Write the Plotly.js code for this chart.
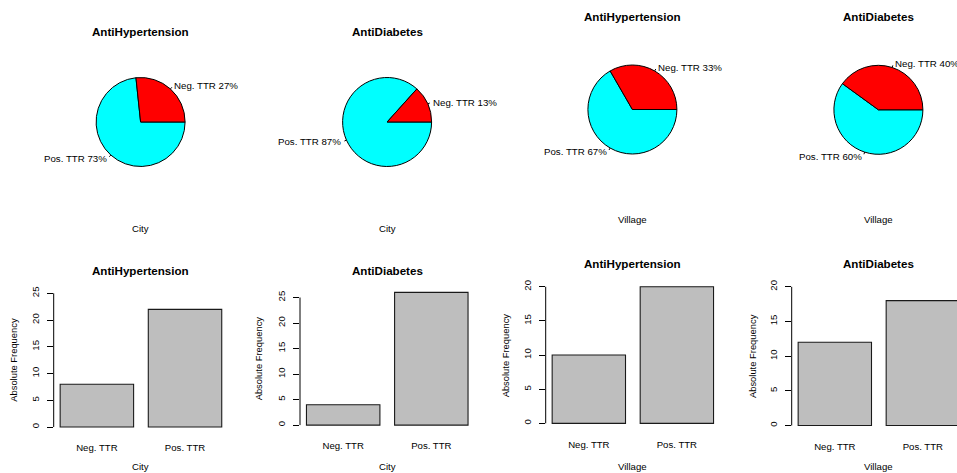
<!DOCTYPE html>
<html>
<head>
<meta charset="utf-8">
<script src="https://cdn.plot.ly/plotly-3.0.1.min.js"></script>
<style>html,body{margin:0;padding:0;background:#fff;}#chart{width:957px;height:473px;}</style>
</head>
<body>
<div id="chart"></div>
<script>
// ---------------- data ----------------
const categories = ['Neg. TTR', 'Pos. TTR'];
const panelTitles = ['AntiHypertension', 'AntiDiabetes', 'AntiHypertension', 'AntiDiabetes'];
const groups = ['City', 'City', 'Village', 'Village'];
const cityHyper = [8, 22];
const cityDiab = [4, 26];
const villageHyper = [10, 20];
const villageDiab = [12, 18];
const yTicks1 = [0, 5, 10, 15, 20, 25];
const yTicks2 = [0, 5, 10, 15, 20, 25];
const yTicks3 = [0, 5, 10, 15, 20];
const yTicks4 = [0, 5, 10, 15, 20];
const yTitle = 'Absolute Frequency';
const pieColors = ['#FF0000', '#00FFFF'];

const series = [cityHyper, cityDiab, villageHyper, villageDiab];
const yTickSets = [yTicks1, yTicks2, yTicks3, yTicks4];

// ---------------- geometry (pixels) ----------------
const W = 957, H = 473;
const px = x => x / W;
const py = y => 1 - y / H;
const FONT = 'Liberation Sans, Arial, Helvetica, sans-serif';

const pieCenters = [[140.6, 122], [387.1, 122], [632.4, 109.5], [878.4, 109.8]];
const pieR = 44.5;
const overlayHalf = 1.6; // overlay axis range in radius units
const colX = [140.7, 387.1, 632.6, 878.6];
const pieTitleY = [32, 32, 16, 16];
const pieGroupY = [228.3, 228.3, 219.7, 219.7];
const barTitleY = [270, 270, 263.3, 263.3];
const barGroupY = [466.7, 466.7, 466.7, 466.7];
const barXDom = [[53.7, 228.2], [300.0, 474.5], [545.7, 720.0], [791.7, 957]];
const barXRangeRight = [1.49, 1.49, 1.49, 1.388];
const barYDom = [[287.95, 432.35], [287.1, 430.4], [281.3, 428.8], [281.25, 431.05]];
const yTitleX = [13.6, 258.6, 505.3, 751.9];

const traces = [];
const layout = {
  width: W, height: H,
  margin: {l: 0, r: 0, t: 0, b: 0},
  paper_bgcolor: '#ffffff', plot_bgcolor: 'rgba(0,0,0,0)',
  showlegend: false,
  font: {family: FONT, color: '#000', size: 9.6},
  annotations: [], shapes: []
};

function ann(text, x, y, opts) {
  return Object.assign({
    text: text, x: x, y: y, xref: 'paper', yref: 'paper',
    showarrow: false, xanchor: 'center', yanchor: 'middle',
    font: {family: FONT, size: 9.6, color: '#000'}
  }, opts || {});
}

for (let i = 0; i < 4; i++) {
  const vals = series[i];
  const total = vals.reduce((a, b) => a + b, 0);
  const [cx, cy] = pieCenters[i];

  // ---------- pie (R-style: slices counterclockwise from 3 o'clock) ----------
  // Plotly clockwise from 3 o'clock with reversed order gives the same layout.
  traces.push({
    type: 'pie', values: vals.slice().reverse(), labels: categories.slice().reverse(), sort: false,
    direction: 'clockwise', rotation: 90,
    marker: {colors: pieColors.slice().reverse(), line: {color: '#000', width: 1}},
    textinfo: 'none', hoverinfo: 'label+value', showlegend: false,
    domain: {x: [px(cx - pieR), px(cx + pieR)], y: [py(cy + pieR), py(cy - pieR)]}
  });

  // overlay axes for pie labels (1 unit = radius)
  const k = i + 5;
  const oh = pieR * overlayHalf;
  layout['xaxis' + k] = {domain: [px(cx - oh), Math.min(1, px(cx + oh))], range: [-overlayHalf, (Math.min(W, cx + oh) - cx) / pieR],
    visible: false, fixedrange: true, anchor: 'y' + k};
  layout['yaxis' + k] = {domain: [py(cy + oh), py(cy - oh)], range: [-overlayHalf, overlayHalf],
    visible: false, fixedrange: true, anchor: 'x' + k};

  let cum = 0;
  vals.forEach((v, j) => {
    const mid = 2 * Math.PI * (cum + v / 2) / total;
    cum += v;
    const c = Math.cos(mid), s = Math.sin(mid);
    traces.push({
      type: 'scatter', mode: 'lines', x: [c, 1.05 * c], y: [s, 1.05 * s],
      xaxis: 'x' + k, yaxis: 'y' + k, line: {color: '#000', width: 1},
      hoverinfo: 'skip', showlegend: false
    });
    const pct = Math.round(100 * v / total);
    layout.annotations.push({
      text: categories[j] + ' ' + pct + '%', x: 1.1 * c, y: 1.1 * s,
      xref: 'x' + k, yref: 'y' + k, showarrow: false,
      xanchor: c < 0 ? 'right' : 'left', yanchor: 'middle',
      borderpad: 0,
      font: {family: FONT, size: 9.7, color: '#000'}
    });
  });

  layout.annotations.push(ann(panelTitles[i], px(colX[i]), py(pieTitleY[i]),
    {font: {family: FONT, size: 11.6, color: '#000', weight: 'bold'}}));
  layout.annotations.push(ann(groups[i], px(colX[i]), py(pieGroupY[i])));

  // ---------- bar ----------
  const n = i + 1;
  const ticks = yTickSets[i];
  const L = Math.max(ticks[ticks.length - 1], Math.max.apply(null, vals));
  traces.push({
    type: 'bar', x: categories, y: vals, width: 1 / 1.2,
    xaxis: 'x' + n, yaxis: 'y' + n,
    marker: {color: '#BEBEBE', line: {color: '#1a1a1a', width: 1.1}},
    hoverinfo: 'x+y', showlegend: false
  });
  layout['xaxis' + n] = {
    domain: [px(barXDom[i][0]), px(barXDom[i][1])],
    range: [-0.49, barXRangeRight[i]], type: 'category',
    categoryorder: 'array', categoryarray: categories,
    showgrid: false, zeroline: false, showline: false,
    ticks: 'outside', ticklen: 6.5, tickcolor: 'rgba(0,0,0,0)',
    tickfont: {family: FONT, size: 9.6, color: '#000'},
    anchor: 'y' + n, fixedrange: true
  };
  layout['yaxis' + n] = {
    domain: [py(barYDom[i][1]), py(barYDom[i][0])],
    range: [-0.04 * L, 1.04 * L],
    tickmode: 'array', tickvals: ticks, ticktext: ticks.map(String),
    tickangle: -90, ticks: 'outside', ticklen: 6, tickwidth: 1, tickcolor: '#000',
    ticklabelstandoff: 4,
    showgrid: false, zeroline: false, showline: false,
    tickfont: {family: FONT, size: 9.6, color: '#000'},
    anchor: 'x' + n, fixedrange: true
  };
  layout.shapes.push({
    type: 'line', xref: 'x' + n + ' domain', yref: 'y' + n,
    x0: 0, x1: 0, y0: ticks[0], y1: ticks[ticks.length - 1],
    line: {color: '#000', width: 1}
  });
  layout.annotations.push(ann(panelTitles[i], px(colX[i]), py(barTitleY[i]),
    {font: {family: FONT, size: 11.6, color: '#000', weight: 'bold'}}));
  layout.annotations.push(ann(groups[i], px(colX[i]), py(barGroupY[i])));
  layout.annotations.push(ann(yTitle, px(yTitleX[i]),
    py((barYDom[i][0] + barYDom[i][1]) / 2), {textangle: -90, font: {family: FONT, size: 9.4, color: '#000'}}));
}

Plotly.newPlot('chart', traces, layout, {displayModeBar: false, staticPlot: false});
</script>
</body>
</html>
